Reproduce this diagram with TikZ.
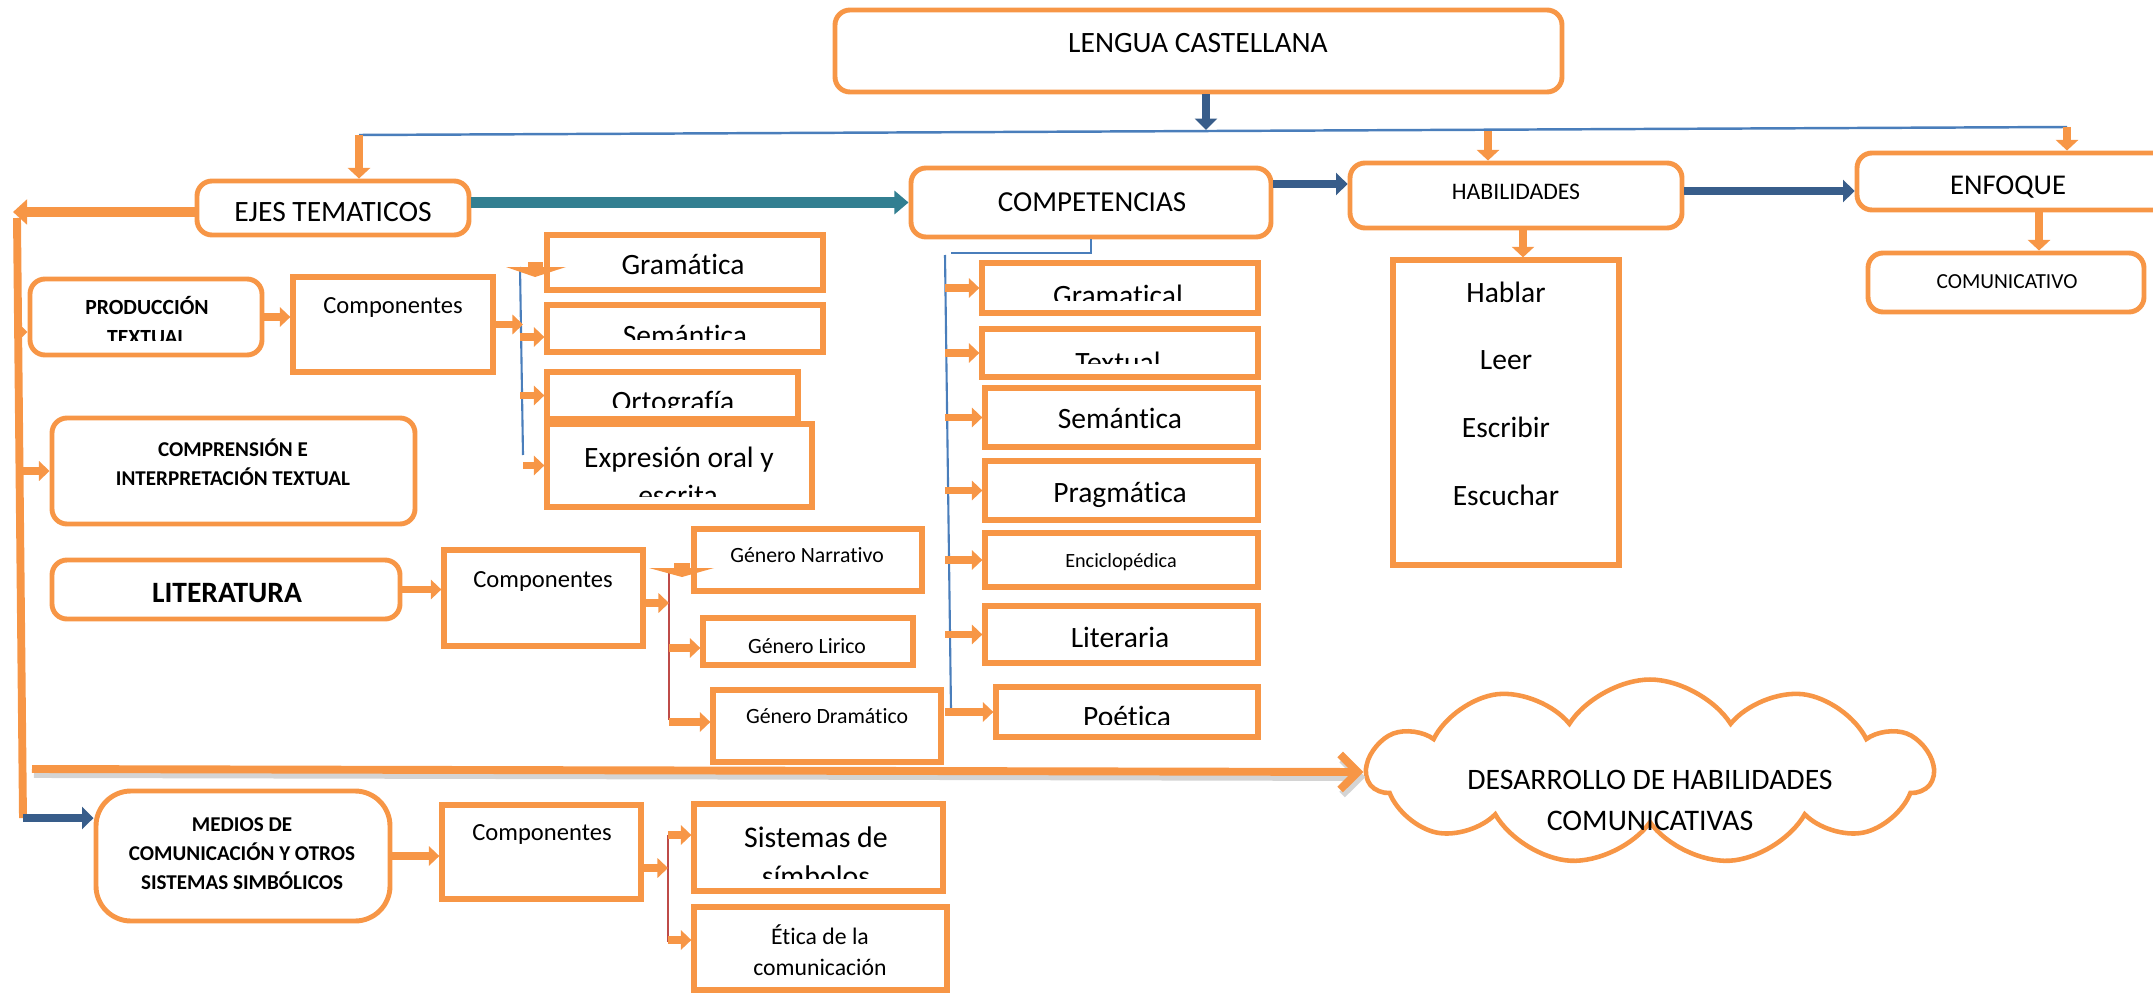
\documentclass[tikz,border=0pt]{standalone}
\usepackage{fontspec}
\setmainfont{Carlito}[Ligatures=NoCommon]
\usetikzlibrary{arrows.meta,shapes.symbols}
\definecolor{naranja}{HTML}{F79646}
\definecolor{azulos}{HTML}{385D8A}
\definecolor{azulfino}{HTML}{4A7EBB}
\definecolor{rojofino}{HTML}{BE4B48}
\definecolor{verdeazul}{HTML}{327F91}
\definecolor{gris}{HTML}{D4D4D4}
\begin{document}
\begin{tikzpicture}[x=0.02cm, y=-0.02cm,
  caja/.style={draw=naranja, line width=3pt, inner sep=0pt},
  rcaja/.style={caja, rounded corners=0.3cm, line width=2.8pt},
  sz/.style 2 args={minimum width=#1*0.02cm, minimum height=#2*0.02cm},
  txt/.style={anchor=base, inner sep=0pt},
  fs/.style={font=\fontsize{#1}{#1}\selectfont},
  fsb/.style={font=\fontsize{#1}{#1}\selectfont\bfseries},
  oline/.style={draw=naranja, line width=4.5pt},
  oarr/.style={oline, -{Triangle[width=11pt,length=6pt]}},
  odown/.style={oline, -{Triangle[width=12.5pt,length=6pt]}},
  barr/.style={draw=azulos, line width=5pt, -{Triangle[width=12.5pt,length=6.5pt]}},
  tarr/.style={draw=verdeazul, line width=5.7pt, -{Triangle[width=13pt,length=8pt]}},
  fino/.style={draw=azulfino, line width=1.2pt},
  finor/.style={draw=rojofino, line width=1pt},
  nube/.style={cloud, cloud puffs=11, cloud puff arc=115, cloud ignores aspect,
    draw=naranja, line width=2.6pt, inner sep=0pt}]
\clip (0,0) rectangle (2153,993);

\node[rcaja, sz={727}{82}] (lengua) at (1198.5,51) {};
\node[rcaja, sz={272}{54}] (ejes) at (333,208) {};
\node[rcaja, sz={360}{69}] (compet) at (1091,202.5) {};
\node[rcaja, sz={332}{65}] (habil) at (1516,195.5) {};
\node[rcaja, sz={318}{57}] (enfoque) at (2016,181.5) {};
\node[rcaja, sz={276}{59}] (comunic) at (2006,282.5) {};
\node[caja, sz={226}{305}] (hablar) at (1506,412.5) {};
\node[txt, fs=16.8] (lengua-t) at (1198,53) {LENGUA CASTELLANA};
\node[txt, fs=16.8] (ejes-t) at (333,222) {EJES TEMATICOS};
\node[txt, fs=16.5] (compet-t) at (1092,212) {COMPETENCIAS};
\node[txt, fs=13.5] (habil-t) at (1516,200) {HABILIDADES};
\node[txt, fs=16.3] (enfoque-t) at (2008,195) {ENFOQUE};
\node[txt, fs=12.2] (comunic-t) at (2007,288) {COMUNICATIVO};
\foreach \t/\y in {Hablar/302, Leer/369, Escribir/437, Escuchar/505}
  \node[txt, fs=16.8] (h-\t) at (1506,\y) {\t};

\coordinate (bl) at (359,135);
\coordinate (br) at (2067,127);
\coordinate (bd) at (1206,130);
\coordinate (bh) at (1488,131);
\coordinate (ec) at (2039,0);
\draw[fino, line width=1.4pt] (bl) -- (br);
\draw[barr] (lengua.south -| bd) -- (bd);
\draw[odown] (bl) -- (bl |- ejes.north);
\draw[odown] (bh) -- (bh |- habil.north);
\draw[odown] (br) -- (br |- enfoque.north);
\draw[tarr] (ejes.east |- compet.west) -- (compet.west);
\draw[barr] ([yshift=0.37cm]compet.east) -- ([yshift=0.37cm]compet.east -| habil.west);
\draw[barr] ([yshift=0.09cm]habil.east) -- ([yshift=0.09cm]habil.east -| enfoque.west);
\draw[odown] (enfoque.south -| ec) -- (comunic.north -| ec);
\draw[odown] ([xshift=0.14cm]habil.south) -- ([xshift=0.14cm]habil.south |- hablar.north);

\foreach \n/\x/\y/\w/\h in {gramatical/1120/288/276/50, textual/1120/353/276/48,
    semant2/1121.5/417.5/273/59, pragm/1121.5/490.5/273/59, encicl/1121.5/560/273/54,
    literaria/1121.5/634.5/273/57, poetica/1127/712/262/50}
  \node[caja, sz={\w}{\h}] (\n) at (\x,\y) {};
\node[txt, fs=16.8] (semant2-t) at (1120,428) {Semántica};
\node[txt, fs=16.8] (pragm-t) at (1120,502) {Pragmática};
\node[txt, fs=11.5] (encicl-t) at (1121,567) {Enciclopédica};
\node[txt, fs=16.8] (literaria-t) at (1120,647) {Literaria};
\begin{scope}
  \clip (982,263) rectangle (1258,300);
  \node[txt, fs=16.8] (gramatical-t) at (1118,305) {Gramatical};
\end{scope}
\begin{scope}
  \clip (982,329) rectangle (1258,363);
  \node[txt, fs=16.8] (textual-t) at (1118,372) {Textual};
\end{scope}
\begin{scope}
  \clip (996,687) rectangle (1258,724);
  \node[txt, fs=16.8] (poetica-t) at (1127,726) {Poética};
\end{scope}
\coordinate (cq) at (951,253);
\coordinate (cv) at (945,255);
\coordinate (cvb) at (951,710);
\draw[fino] (compet.south) |- (cq);
\draw[fino] (cv) -- (cvb);
\foreach \n in {gramatical, textual, semant2, pragm, encicl, literaria, poetica}
  \draw[oarr] (\n.west -| cv) -- (\n.west);

\node[rcaja, sz={232}{76}] (produc) at (146,317) {};
\node[caja, sz={200}{95}] (comp1) at (393,324.5) {};
\node[caja, sz={276}{55}] (gramatica) at (685,262.5) {};
\node[caja, sz={276}{47}] (semant1) at (685,328.5) {};
\node[caja, sz={251}{47}] (ortog) at (672.5,395.5) {};
\node[caja, sz={265}{83}] (expres) at (679.5,465.5) {};
\node[txt, fsb=12.3] (produc-t) at (147,315) {PRODUCCIÓN};
\begin{scope}
  \clip (30,279) rectangle (262,340);
  \node[txt, fsb=12.3] (produc-t2) at (147,344) {TEXTUAL};
\end{scope}
\node[txt, fs=14] (comp1-t) at (393,313) {Componentes};
\node[txt, fs=16.8] (gramatica-t) at (683,275) {Gramática};
\begin{scope}
  \clip (547,305) rectangle (823,339);
  \node[txt, fs=16.8] (semant1-t) at (685,345) {Semántica};
\end{scope}
\begin{scope}
  \clip (547,372) rectangle (798,407);
  \node[txt, fs=16.8] (ortog-t) at (673,411) {Ortografía};
\end{scope}
\node[txt, fs=16.8] (expres-t) at (679,467) {Expresión oral y};
\begin{scope}
  \clip (547,424) rectangle (812,496);
  \node[txt, fs=16.8] (expres-t2) at (678,505) {escrita};
\end{scope}
\coordinate (cv1a) at (520,267);
\coordinate (cv1b) at (523,455);
\draw[fino] (cv1a) -- (cv1b);
\fill[naranja] (506,267) -- (566,267) -- (535,277) -- cycle;
\fill[naranja] (528,262) rectangle (543,268);
\draw[oarr] (produc.east) -- (produc.east -| comp1.west);
\draw[oarr] (comp1.east) -- (comp1.east -| cv1b);
\draw[oarr] ([yshift=-0.17cm]semant1.west -| cv1a) -- ([yshift=-0.17cm]semant1.west);
\draw[oarr] (ortog.west -| cv1a) -- (ortog.west);
\draw[oarr] (expres.west -| cv1b) -- (expres.west);

\node[rcaja, sz={363}{106}] (compren) at (233.5,471) {};
\node[txt, fsb=12] (compren-t) at (233,456) {COMPRENSIÓN E};
\node[txt, fsb=12] (compren-t2) at (233,485) {INTERPRETACIÓN TEXTUAL};

\node[rcaja, sz={348}{59}] (literat) at (226,589.5) {};
\node[caja, sz={199}{96}] (comp2) at (543.5,598) {};
\node[caja, sz={228}{62}] (narrat) at (808,560) {};
\node[caja, sz={210}{47}] (lirico) at (808,641.5) {};
\node[caja, sz={228}{72}] (dramat) at (827,726) {};
\node[txt, fsb=16.8] (literat-t) at (227,602) {LITERATURA};
\node[txt, fs=14] (comp2-t) at (543,587) {Componentes};
\node[txt, fs=12.4] (narrat-t) at (807,562) {Género Narrativo};
\node[txt, fs=12.4] (lirico-t) at (807,653) {Género Lirico};
\node[txt, fs=12.4] (dramat-t) at (827,723) {Género Dramático};
\coordinate (cv2a) at (669,572);
\coordinate (cv2b) at (669,720);
\draw[finor] (cv2a) -- (cv2b);
\fill[naranja] (649,568) -- (714,568) -- (682,577) -- cycle;
\fill[naranja] (674,563) rectangle (690,569);
\draw[oarr] (literat.east) -- (literat.east -| comp2.west);
\draw[oarr] ([yshift=-0.1cm]comp2.east) -- ([yshift=-0.1cm]comp2.east -| cv2a);
\draw[oarr] ([yshift=-0.13cm]lirico.west -| cv2a) -- ([yshift=-0.13cm]lirico.west);
\draw[oarr] ([yshift=0.08cm]dramat.west -| cv2a) -- ([yshift=0.08cm]dramat.west);

\node[rcaja, rounded corners=0.7cm, sz={294}{130}] (medios) at (243,856) {};
\node[caja, sz={199}{94}] (comp3) at (541.5,852) {};
\node[caja, sz={249}{87}] (sistemas) at (818.5,847.5) {};
\node[caja, sz={253}{83}] (etica) at (820.5,948.5) {};
\node[txt, fsb=12] (medios-t) at (242,831) {MEDIOS DE};
\node[txt, fsb=12] (medios-t2) at (242,860) {COMUNICACIÓN Y OTROS};
\node[txt, fsb=12] (medios-t3) at (242,889) {SISTEMAS SIMBÓLICOS};
\node[txt, fs=14] (comp3-t) at (542,840) {Componentes};
\node[txt, fs=17] (sistemas-t) at (816,847) {Sistemas de};
\begin{scope}
  \clip (694,804) rectangle (943,878);
  \node[txt, fs=17] (sistemas-t2) at (816,886) {símbolos};
\end{scope}
\node[txt, fs=13.5] (etica-t) at (820,944) {Ética de la};
\node[txt, fs=13.5] (etica-t2) at (820,975) {comunicación};
\coordinate (cv3a) at (668,835);
\coordinate (cv3b) at (668,942);
\draw[finor] (cv3a) -- (cv3b);
\draw[oarr] (medios.east) -- (medios.east -| comp3.west);
\draw[oarr] ([yshift=-0.32cm]comp3.east) -- ([yshift=-0.32cm]comp3.east -| cv3a);
\draw[oarr] ([yshift=0.25cm]sistemas.west -| cv3a) -- ([yshift=0.25cm]sistemas.west);
\draw[oarr] ([yshift=0.17cm]etica.west -| cv3a) -- ([yshift=0.17cm]etica.west);

\coordinate (ejesfin) at (13,212);
\coordinate (vtop) at (17,218);
\coordinate (vbot) at (23,818);
\draw[oline, line width=5.5pt, -{Triangle[width=14pt,length=8pt]}] (ejes.west |- ejesfin) -- (ejesfin);
\draw[oline] (vtop) -- (vbot);
\draw[oarr] ([yshift=-0.3cm]produc.west -| vtop) -- ([yshift=-0.3cm]produc.west);
\draw[oarr] (compren.west -| vtop) -- (compren.west);
\draw[barr, line width=4.5pt] (vbot) -- (vbot -| medios.west);

\node[nube, minimum width=11.3cm, minimum height=3.7cm] (desarrollo) at (1650,772) {};
\node[txt, fs=16.9] (desarrollo-t) at (1650,789) {DESARROLLO DE HABILIDADES};
\node[txt, fs=17] (desarrollo-t2) at (1650,830) {COMUNICATIVAS};
\coordinate (lineini) at (32,769);
\draw[gris, line width=4.5pt, -{Straight Barb[length=10pt,width=20pt]}]
  ([shift={(2,5)}]lineini) -- ([shift={(2,5)}]desarrollo.west);
\draw[naranja, line width=4.5pt, -{Straight Barb[length=10pt,width=20pt]}]
  (lineini) -- (desarrollo.west);
\end{tikzpicture}
\end{document}
